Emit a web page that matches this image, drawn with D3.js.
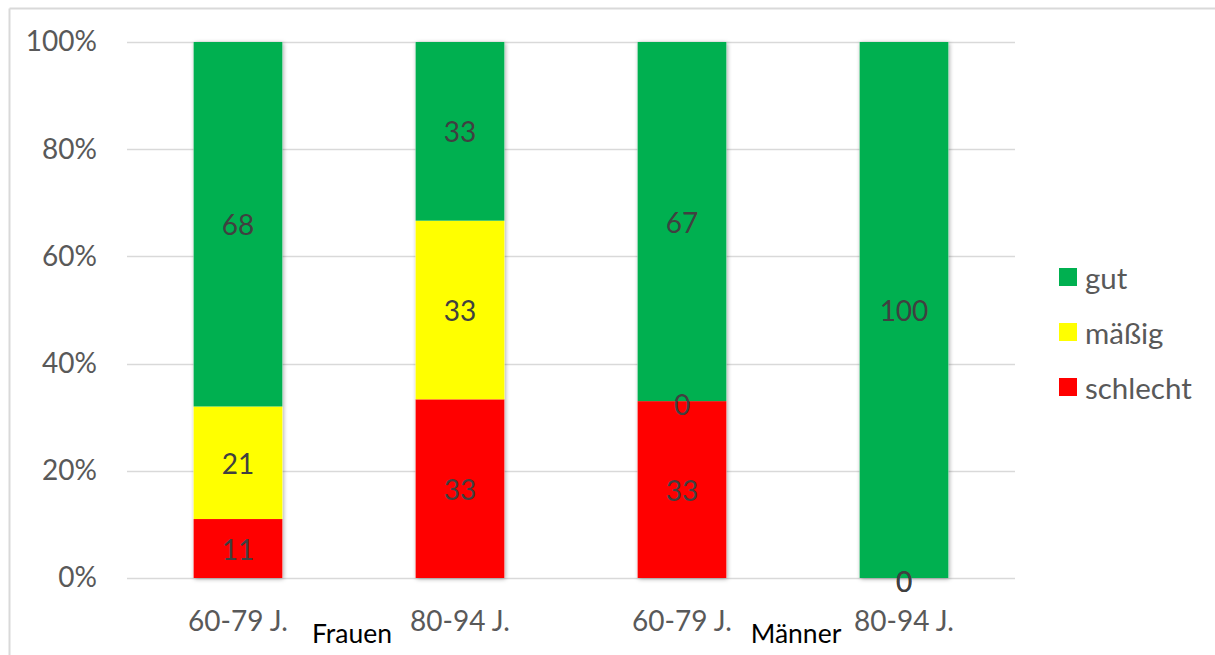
<!DOCTYPE html>
<html>
<head>
<meta charset="utf-8">
<script src="https://cdn.jsdelivr.net/npm/d3@7"></script>
<style>
  html, body { margin: 0; padding: 0; background: #fff; }
  svg { display: block; font-family: Lato, "Noto Sans", sans-serif; }
</style>
</head>
<body>
<svg id="chart" width="1215" height="655"></svg>
<script>
// Age bands per bar, and the gender group each pair belongs to
const categories = ["60-79 J.", "80-94 J.", "60-79 J.", "80-94 J."];
const groups = ["Frauen", "Männer"];
const seriesNames = ["schlecht", "mäßig", "gut"];
const seriesColors = ["#FF0000", "#FFFF00", "#00B050"];

// Counts per rating, one entry per bar
const schlecht = [11, 33, 33, 0];
const maessig  = [21, 33, 0, 0];
const gut      = [68, 33, 67, 100];

const yTicks = [0, 0.2, 0.4, 0.6, 0.8, 1];

const rows = categories.map((c, i) => ({
  idx: i, label: c,
  "schlecht": schlecht[i], "mäßig": maessig[i], "gut": gut[i]
}));

const svg = d3.select("#chart");
const W = 1215, H = 655;

// Chart frame (top and left edges visible)
svg.append("line").attr("x1", 9.5).attr("x2", W).attr("y1", 8.5).attr("y2", 8.5)
  .attr("stroke", "#d9d9d9").attr("stroke-width", 2);
svg.append("line").attr("x1", 9.5).attr("x2", 9.5).attr("y1", 8.5).attr("y2", H)
  .attr("stroke", "#d9d9d9").attr("stroke-width", 2);

const plot = { left: 127, right: 1015, top: 42, bottom: 578 };

const x = d3.scaleBand()
  .domain(rows.map(r => r.idx))
  .range([plot.left, plot.right])
  .paddingInner(0.6)
  .paddingOuter(0.3);

const y = d3.scaleLinear().domain([0, 1]).range([plot.bottom, plot.top]);

// Gridlines
svg.append("g").selectAll("line").data(yTicks).join("line")
  .attr("x1", plot.left).attr("x2", plot.right)
  .attr("y1", d => Math.round(y(d)) + 0.5).attr("y2", d => Math.round(y(d)) + 0.5)
  .attr("stroke", "#d9d9d9").attr("stroke-width", 1.5);

// Y axis labels
const yAxis = d3.axisLeft(y).tickValues(yTicks).tickFormat(d3.format(".0%")).tickSize(0).tickPadding(30);
const yg = svg.append("g").attr("transform", `translate(${plot.left},0)`).call(yAxis);
yg.select(".domain").remove();
yg.selectAll("text").attr("fill", "#595959").attr("font-size", 28)
  .attr("font-family", "Lato, 'Noto Sans', sans-serif");

// Soft shadow under bars
const defs = svg.append("defs");
const f = defs.append("filter").attr("id", "shadow")
  .attr("x", "-20%").attr("y", "-5%").attr("width", "140%").attr("height", "110%");
f.append("feDropShadow").attr("dx", 1).attr("dy", 1).attr("stdDeviation", 2)
  .attr("flood-color", "#000").attr("flood-opacity", 0.35);

const stack = d3.stack().keys(seriesNames).offset(d3.stackOffsetExpand);
const stacked = stack(rows);

const barsG = svg.append("g");
// Shadow layer drawn from full bars
barsG.append("g").selectAll("rect").data(rows).join("rect")
  .attr("x", d => x(d.idx)).attr("width", x.bandwidth())
  .attr("y", y(1)).attr("height", y(0) - y(1))
  .attr("fill", "#fff").attr("filter", "url(#shadow)");

barsG.selectAll("g.series").data(stacked).join("g")
  .attr("class", "series")
  .attr("fill", (d, i) => seriesColors[i])
  .selectAll("rect").data(d => d).join("rect")
  .attr("x", d => x(d.data.idx))
  .attr("width", x.bandwidth())
  .attr("y", d => y(d[1]))
  .attr("height", d => y(d[0]) - y(d[1]));

// Value labels centred in each segment
const labelsG = svg.append("g");
stacked.forEach(s => {
  labelsG.append("g").selectAll("text").data(s).join("text")
    .attr("x", d => x(d.data.idx) + x.bandwidth() / 2)
    .attr("y", d => (y(d[0]) + y(d[1])) / 2 + (d[1] - d[0] === 0 ? 3 : 0))
    .attr("text-anchor", "middle")
    .attr("dominant-baseline", "central")
    .attr("font-size", 28)
    .attr("fill", "#404040")
    .text(d => d.data[s.key]);
});

// Category labels
const xg = svg.append("g");
xg.selectAll("text").data(rows).join("text")
  .attr("x", d => x(d.idx) + x.bandwidth() / 2)
  .attr("y", 620)
  .attr("text-anchor", "middle")
  .attr("dominant-baseline", "central")
  .attr("font-size", 28)
  .attr("fill", "#595959")
  .text(d => d.label);

// Group labels centred under each pair of bars
xg.selectAll("text.group").data(groups).join("text")
  .attr("class", "group")
  .attr("x", (g, i) => (x(i * 2) + x(i * 2 + 1) + x.bandwidth()) / 2 + 3)
  .attr("y", 633)
  .attr("text-anchor", "middle")
  .attr("dominant-baseline", "central")
  .attr("font-size", 26.5)
  .attr("fill", "#000")
  .text(d => d);

// Legend (gut on top)
const legendItems = seriesNames.map((n, i) => ({ name: n, color: seriesColors[i] })).reverse();
const lg = svg.append("g").attr("transform", "translate(1059,277)");
const li = lg.selectAll("g").data(legendItems).join("g")
  .attr("transform", (d, i) => `translate(0,${i * 55})`);
li.append("rect").attr("x", 0).attr("y", -9).attr("width", 18).attr("height", 18)
  .attr("fill", d => d.color);
li.append("text").attr("x", 26).attr("y", 0)
  .attr("dominant-baseline", "central")
  .attr("font-size", 29.5).attr("fill", "#595959")
  .text(d => d.name);
</script>
</body>
</html>
